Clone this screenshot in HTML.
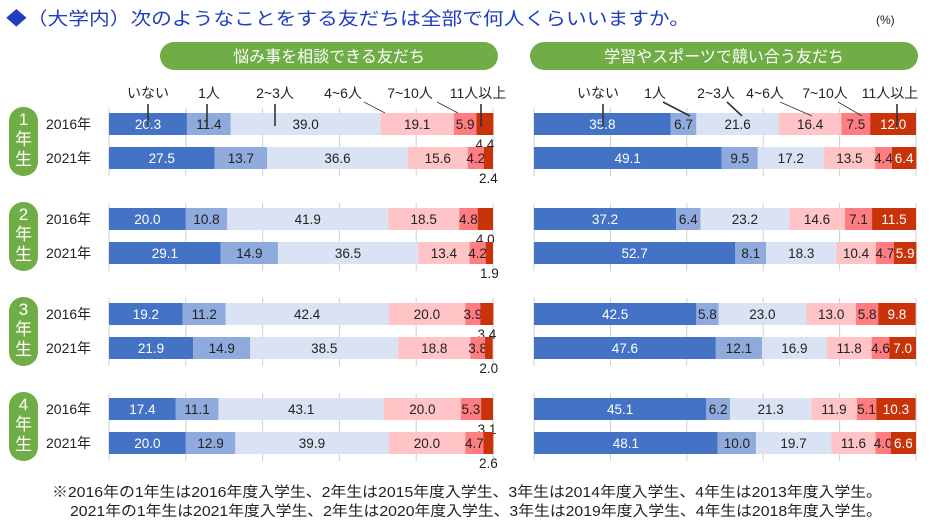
<!DOCTYPE html>
<html><head><meta charset="utf-8">
<style>
body{margin:0;width:939px;height:527px;background:#fff;overflow:hidden;font-family:"Liberation Sans","Noto Sans CJK JP",sans-serif;}
svg text{font-family:"Liberation Sans","Noto Sans CJK JP",sans-serif;}
</style></head>
<body>
<svg id="c" width="939" height="527"></svg>
<script>
const categories=["いない","1人","2~3人","4~6人","7~10人","11人以上"];
const years=["2016年","2021年"];
const grades=["1","2","3","4"];
const leftValues=[
[[20.3,11.4,39.0,19.1,5.9,4.4],[27.5,13.7,36.6,15.6,4.2,2.4]],
[[20.0,10.8,41.9,18.5,4.8,4.0],[29.1,14.9,36.5,13.4,4.2,1.9]],
[[19.2,11.2,42.4,20.0,3.9,3.4],[21.9,14.9,38.5,18.8,3.8,2.0]],
[[17.4,11.1,43.1,20.0,5.3,3.1],[20.0,12.9,39.9,20.0,4.7,2.6]]];
const rightValues=[
[[35.8,6.7,21.6,16.4,7.5,12.0],[49.1,9.5,17.2,13.5,4.4,6.4]],
[[37.2,6.4,23.2,14.6,7.1,11.5],[52.7,8.1,18.3,10.4,4.7,5.9]],
[[42.5,5.8,23.0,13.0,5.8,9.8],[47.6,12.1,16.9,11.8,4.6,7.0]],
[[45.1,6.2,21.3,11.9,5.1,10.3],[48.1,10.0,19.7,11.6,4.0,6.6]]];
const colors=["#4472C4","#8FAADC","#DAE3F3","#FFC4C6","#FF7C80","#C8330A"];
const txtCol=["#fff","#222","#222","#222","#222","#222"];
const NS="http://www.w3.org/2000/svg";
const svg=document.getElementById('c');
function el(t,a,txt){const e=document.createElementNS(NS,t);for(const k in a)e.setAttribute(k,a[k]);if(txt!==undefined)e.textContent=txt;svg.appendChild(e);return e;}
const groupTop=[113,208,303,398];
const rowOff=[0,34];
const barH=22;
function xs(x0,w){return v=>x0+v/100*w;}
const panels=[{x0:109,w:384,vals:leftValues,side:'left'},{x0:534,w:382,vals:rightValues,side:'right'}];
let t=el('text',{x:6,y:25,'font-size':18,fill:'#1f3fbf',textLength:684,lengthAdjust:'spacingAndGlyphs'},'◆（大学内）次のようなことをする友だちは全部で何人くらいいますか。');

t=el('text',{x:876,y:24,'font-size':12,fill:'#222'},'(%)');

[["悩み事を相談できる友だち",160,338],["学習やスポーツで競い合う友だち",530,388]].forEach((h,i)=>{
 let r=el('rect',{x:h[1],y:42,width:h[2],height:28,rx:14,fill:'#70AD47'});
 
 let tt=el('text',{x:h[1]+h[2]/2,y:62,'font-size':16,fill:'#fff','text-anchor':'middle'},h[0]);
 
});
grades.forEach((g,gi)=>{
 const y=groupTop[gi];
 let p=el('rect',{x:9,y:y-6,width:29,height:69,rx:14,fill:'#70AD47'});
 
 [g,'年','生'].forEach((ch,k)=>{
  let tx=el('text',{x:23.5,y:y+12+k*20,'font-size':17,fill:'#fff','text-anchor':'middle'},ch);
  
 });
 years.forEach((yr,yi)=>{
  let tx=el('text',{x:46,y:y+rowOff[yi]+16,'font-size':14,fill:'#222'},yr);
  
 });
});
panels.forEach(P=>{
 const X=xs(P.x0,P.w);
 grades.forEach((g,gi)=>{
  const y0=groupTop[gi];
  for(let k=0;k<=5;k++){
   let l=el('line',{x1:X(k*20),x2:X(k*20),y1:y0-5,y2:y0+63,stroke:'#d0d0d0','stroke-width':1});
   
  }
  years.forEach((yr,yi)=>{
   const vals=P.vals[gi][yi];const y=y0+rowOff[yi];
   let cum=0;
   vals.forEach((v,si)=>{
    const xa=X(cum),xb=X(cum+v);
    let r=el('rect',{x:xa,y:y,width:xb-xa,height:barH,fill:colors[si]});
    
    let small=(P.side==='left'&&si===5);
    let col=txtCol[si];if(si===5)col=P.side==='right'?'#fff':'#222';
    let lbl=el('text',{x:(xa+xb)/2,y:small?y+barH+14:y+16,'font-size':13.5,fill:col,'text-anchor':'middle'},v.toFixed(1));
    
    cum+=v;
   });
  });
 });
 const lx=P.side==='left'?[148,209,275,343,410,478]:[598,655,716,765,825,890];
 const leads=P.side==='left'
  ?[[148,104,148,127],[207,104,207,127],[275,104,275,126],[364,102,385,113],[437,102,458,113],[481,104,481,127]]
  :[[603,104,603,127],[663,102,690,116],[727,102,742,116],[780,102,812,116],[838,102,862,116],[897,104,897,127]];
 categories.forEach((c,i)=>{
  let tx=el('text',{x:lx[i],y:98,'font-size':14,fill:'#222','text-anchor':'middle'},c);
  
  const L=leads[i];
  let ln=el('line',{x1:L[0],y1:L[1],x2:L[2],y2:L[3],stroke:'#333','stroke-width':i===0||i===1||i===2||i===5?1.6:0.8});
  
 });
});
[["※2016年の1年生は2016年度入学生、2年生は2015年度入学生、3年生は2014年度入学生、4年生は2013年度入学生。",52,830],
 ["2021年の1年生は2021年度入学生、2年生は2020年度入学生、3年生は2019年度入学生、4年生は2018年度入学生。",70,812]].forEach((s,i)=>{
 let tx=el('text',{x:s[1],y:497+i*19,'font-size':14.5,fill:'#222',textLength:s[2],lengthAdjust:'spacingAndGlyphs'},s[0]);
 
});
</script>
</body></html>
